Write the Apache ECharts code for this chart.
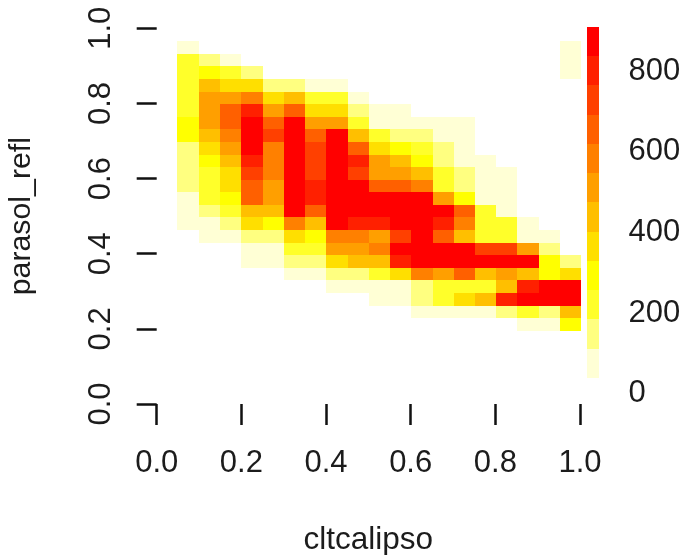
<!DOCTYPE html>
<html>
<head>
<meta charset="utf-8">
<title>cltcalipso vs parasol_refl</title>
<script src="https://cdn.jsdelivr.net/npm/echarts@6/dist/echarts.min.js"></script>
<style>
  html, body { margin: 0; padding: 0; background: #fff; }
  #chart { width: 685px; height: 555px; }
</style>
</head>
<body>
<div id="chart"></div>
<script>
// bin edges
var xEdges = [0.049, 0.099, 0.149, 0.199, 0.250, 0.300, 0.350, 0.400, 0.451, 0.501,
  0.551, 0.601, 0.652, 0.702, 0.752, 0.802, 0.852, 0.903, 0.953, 1.003]
// top to bottom
var yEdges = [0.9655, 0.932, 0.8985, 0.865, 0.8315, 0.798, 0.7645, 0.731, 0.6975, 0.664, 0.6305, 0.597,
  0.5635, 0.53, 0.4965, 0.463, 0.4295, 0.396, 0.3625, 0.329, 0.2955, 0.262, 0.2285, 0.195]

// estimated counts, one row per y bin (top to bottom), 0 = empty cell
var counts = [
  [65, 0, 0, 0, 0, 0, 0, 0, 0, 0, 0, 0, 0, 0, 0, 0, 0, 0, 65],
  [215, 140, 65, 0, 0, 0, 0, 0, 0, 0, 0, 0, 0, 0, 0, 0, 0, 0, 65],
  [215, 285, 215, 140, 0, 0, 0, 0, 0, 0, 0, 0, 0, 0, 0, 0, 0, 0, 65],
  [215, 430, 360, 360, 140, 140, 65, 65, 0, 0, 0, 0, 0, 0, 0, 0, 0, 0, 0],
  [215, 505, 505, 580, 360, 430, 215, 215, 65, 0, 0, 0, 0, 0, 0, 0, 0, 0, 0],
  [215, 505, 650, 800, 505, 650, 360, 360, 140, 65, 65, 0, 0, 0, 0, 0, 0, 0, 0],
  [285, 505, 650, 870, 650, 870, 505, 505, 215, 65, 65, 65, 65, 65, 0, 0, 0, 0, 0],
  [285, 430, 580, 870, 725, 870, 650, 870, 430, 215, 140, 140, 65, 65, 0, 0, 0, 0, 0],
  [140, 360, 505, 870, 580, 870, 725, 870, 650, 360, 285, 215, 140, 65, 0, 0, 0, 0, 0],
  [140, 285, 430, 800, 580, 870, 725, 870, 800, 505, 430, 285, 140, 65, 65, 0, 0, 0, 0],
  [140, 215, 360, 725, 580, 870, 725, 870, 725, 505, 505, 430, 215, 140, 65, 65, 0, 0, 0],
  [140, 215, 360, 650, 505, 870, 800, 870, 870, 650, 650, 580, 215, 140, 65, 65, 0, 0, 0],
  [65, 215, 285, 650, 505, 870, 800, 870, 870, 870, 870, 870, 505, 285, 65, 65, 0, 0, 0],
  [65, 140, 215, 430, 430, 870, 650, 870, 870, 870, 870, 870, 870, 650, 215, 65, 0, 0, 0],
  [65, 65, 140, 360, 285, 580, 430, 870, 800, 800, 870, 870, 800, 580, 215, 215, 65, 0, 0],
  [0, 65, 65, 140, 140, 360, 285, 580, 580, 505, 725, 870, 650, 430, 215, 215, 65, 65, 0],
  [0, 0, 0, 65, 65, 215, 215, 505, 505, 580, 870, 870, 870, 870, 725, 725, 505, 140, 0],
  [0, 0, 0, 65, 65, 140, 140, 360, 430, 430, 800, 870, 870, 870, 870, 870, 870, 285, 140],
  [0, 0, 0, 0, 0, 65, 65, 140, 140, 215, 360, 580, 505, 650, 430, 505, 430, 285, 360],
  [0, 0, 0, 0, 0, 0, 0, 65, 65, 65, 65, 140, 215, 215, 215, 430, 800, 870, 870],
  [0, 0, 0, 0, 0, 0, 0, 0, 0, 65, 65, 140, 215, 360, 430, 800, 870, 870, 870],
  [0, 0, 0, 0, 0, 0, 0, 0, 0, 0, 0, 65, 65, 65, 65, 140, 215, 140, 430],
  [0, 0, 0, 0, 0, 0, 0, 0, 0, 0, 0, 0, 0, 0, 0, 0, 65, 65, 285]
]

var axisTicks = [0, 0.2, 0.4, 0.6, 0.8, 1]
var barTicks = [0, 200, 400, 600, 800]
var barEdges = [39, 111, 184, 256, 329, 401, 474, 546, 619, 691, 764, 836, 909]
// heat.colors(12), lowest band first
var heatColors = ['#ffffd5', '#ffff80', '#ffff2a', '#ffff00', '#ffdf00', '#ffbf00',
  '#ff9f00', '#ff8000', '#ff6000', '#ff4000', '#ff2000', '#ff0000']

var fontFamily = '"Liberation Sans", Arial, sans-serif'
var textColor = '#1c1c1c'

function colorOf(value) {
  for (var i = 0; i < heatColors.length; i++) {
    if (value < barEdges[i + 1]) {
      return heatColors[i]
    }
  }
  return heatColors[heatColors.length - 1]
}

var cellData = []
counts.forEach(function(row, r) {
  row.forEach(function(count, c) {
    if (count > 0) {
      cellData.push([xEdges[c], xEdges[c + 1], yEdges[r + 1], yEdges[r], count])
    }
  })
})

var barData = heatColors.map(function(color, i) {
  return [barEdges[i], barEdges[i + 1]]
})

function rectFrom(p1, p2, fill) {
  var x1 = Math.round(p1[0])
  var y1 = Math.round(p1[1])
  var x2 = Math.round(p2[0])
  var y2 = Math.round(p2[1])
  return {
    type: 'rect',
    shape: { x: x1, y: y1, width: x2 - x1, height: y2 - y1 },
    style: { fill: fill }
  }
}

function renderCell(params, api) {
  return rectFrom(
    api.coord([api.value(0), api.value(3)]),
    api.coord([api.value(1), api.value(2)]),
    colorOf(api.value(4))
  )
}

function renderBand(params, api) {
  return rectFrom(
    api.coord([0, api.value(1)]),
    api.coord([1, api.value(0)]),
    heatColors[params.dataIndex]
  )
}

function labelStyle(size) {
  return {
    fontFamily: fontFamily,
    fontSize: size,
    color: textColor
  }
}

var chart = echarts.init(document.getElementById('chart'), null, { renderer: 'canvas' })

chart.setOption({
  backgroundColor: '#fff',
  animation: false,
  grid: [
    { left: 156.7, top: 28.3, width: 423.3, height: 375.7, outerBoundsMode: 'none' },
    { left: 587, top: 27, width: 11.5, height: 366.7, outerBoundsMode: 'none' }
  ],
  xAxis: [
    {
      type: 'value',
      gridIndex: 0,
      min: 0,
      max: 1,
      name: 'cltcalipso',
      nameLocation: 'middle',
      nameGap: 120,
      nameTextStyle: labelStyle(31.5),
      splitLine: { show: false },
      axisLine: { show: false },
      axisTick: { show: true, length: 21, lineStyle: { color: '#111', width: 2.5 }, customValues: axisTicks },
      axisLabel: Object.assign({
        show: true,
        margin: 44,
        customValues: axisTicks,
        formatter: function(v) { return v.toFixed(1) }
      }, labelStyle(31))
    },
    { type: 'value', gridIndex: 1, min: 0, max: 1, show: false }
  ],
  yAxis: [
    {
      type: 'value',
      gridIndex: 0,
      min: 0,
      max: 1,
      name: 'parasol_refl',
      nameLocation: 'middle',
      nameGap: 120,
      nameTextStyle: labelStyle(30.3),
      splitLine: { show: false },
      axisLine: { show: false },
      axisTick: { show: true, length: 20, lineStyle: { color: '#111', width: 2.5 }, customValues: axisTicks },
      axisLabel: Object.assign({
        show: true,
        rotate: 90,
        margin: 40,
        customValues: axisTicks,
        formatter: function(v) { return v.toFixed(1) }
      }, labelStyle(31))
    },
    {
      type: 'value',
      gridIndex: 1,
      position: 'right',
      min: 0,
      max: 909,
      splitLine: { show: false },
      axisLine: { show: false },
      axisTick: { show: false },
      axisLabel: Object.assign({
        show: true,
        align: 'left',
        margin: 30,
        customValues: barTicks
      }, labelStyle(31))
    }
  ],
  series: [
    {
      type: 'custom',
      name: 'counts',
      xAxisIndex: 0,
      yAxisIndex: 0,
      coordinateSystem: 'cartesian2d',
      renderItem: renderCell,
      data: cellData,
      encode: { x: [0, 1], y: [2, 3] },
      silent: true
    },
    {
      type: 'custom',
      name: 'scale',
      xAxisIndex: 1,
      yAxisIndex: 1,
      coordinateSystem: 'cartesian2d',
      renderItem: renderBand,
      data: barData,
      encode: { y: [0, 1] },
      silent: true
    }
  ]
})
</script>
</body>
</html>
